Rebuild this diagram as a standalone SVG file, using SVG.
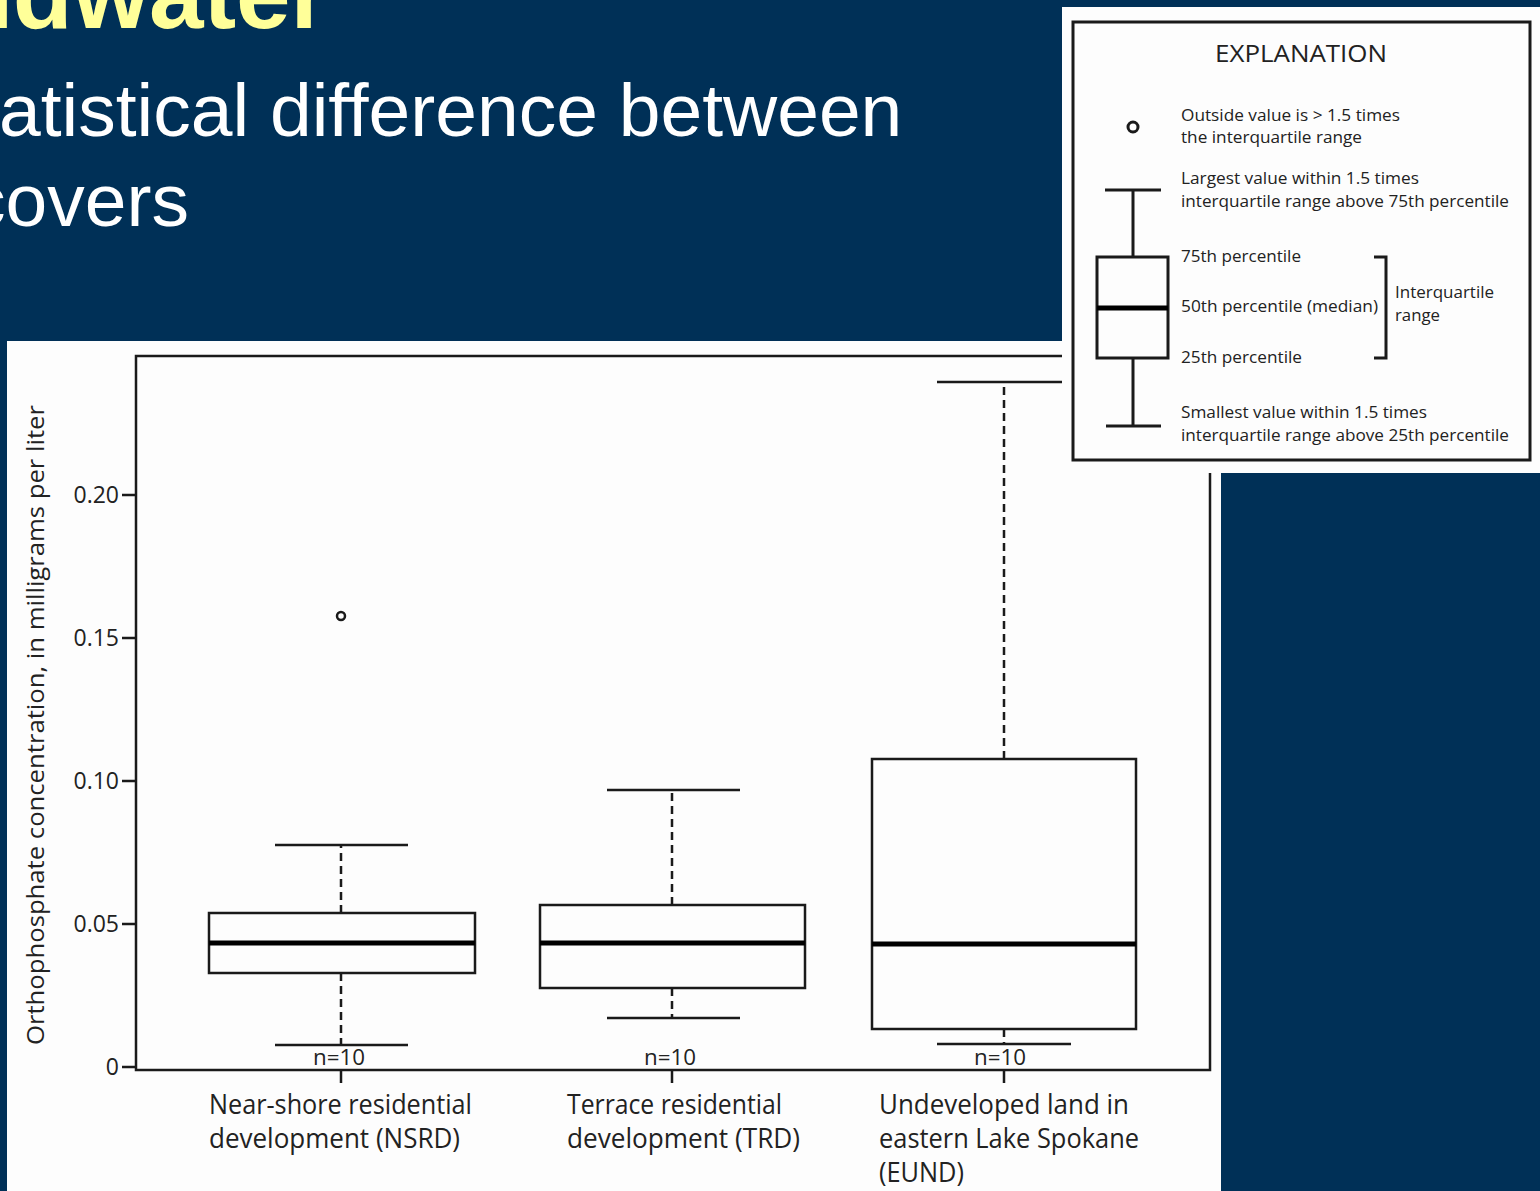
<svg xmlns="http://www.w3.org/2000/svg" width="1540" height="1191" viewBox="0 0 1540 1191">
<style>
.title{font-family:"Liberation Sans",Arial,sans-serif;font-weight:bold;fill:#FFFF99}
.body{font-family:"Liberation Sans",Arial,sans-serif;fill:#ffffff}
.t{font-family:"Open Sans","Noto Sans",sans-serif;fill:#222}
.ln{stroke:#1a1a1a;stroke-width:2.5;fill:none}
.box{stroke:#1a1a1a;stroke-width:2.5;fill:none}
.med{stroke:#000;stroke-width:5;fill:none}
.dash{stroke:#1a1a1a;stroke-width:2.5;fill:none;stroke-dasharray:8 5}
.lg{stroke:#1a1a1a;stroke-width:3;fill:none}
</style>
<rect x="0" y="0" width="1540" height="1191" fill="#003057"/>
<g id="slide-text">
<text class="title" x="-47" y="28" font-size="98">ndwater</text>
<text class="body" x="-1" y="136" font-size="75">atistical difference between</text>
<text class="body" x="-32" y="226" font-size="75">covers</text>
</g>
<g id="chart">
<rect x="7" y="341" width="1214" height="850" fill="#fdfdfd"/>
<rect x="136" y="356" width="1074" height="714" class="ln"/>
<g id="y-axis">
<path class="ln" d="M122 495H136M122 638H136M122 781H136M122 924H136M122 1067H136"/>
<text class="t" x="119" y="503" font-size="23" text-anchor="end">0.20</text>
<text class="t" x="119" y="646" font-size="23" text-anchor="end">0.15</text>
<text class="t" x="119" y="789" font-size="23" text-anchor="end">0.10</text>
<text class="t" x="119" y="932" font-size="23" text-anchor="end">0.05</text>
<text class="t" x="119" y="1075" font-size="23" text-anchor="end">0</text>
<text class="t" transform="translate(44,725) rotate(-90)" font-size="24" text-anchor="middle" textLength="640" lengthAdjust="spacingAndGlyphs">Orthophosphate concentration, in milligrams per liter</text>
</g>
<g id="x-axis">
<path class="ln" d="M341 1070V1083M672 1070V1083M1004 1070V1083"/>
<text class="t" x="209" y="1114" font-size="27" textLength="263" lengthAdjust="spacingAndGlyphs">Near-shore residential</text>
<text class="t" x="209" y="1148" font-size="27" textLength="251" lengthAdjust="spacingAndGlyphs">development (NSRD)</text>
<text class="t" x="567" y="1114" font-size="27" textLength="215" lengthAdjust="spacingAndGlyphs">Terrace residential</text>
<text class="t" x="567" y="1148" font-size="27" textLength="233" lengthAdjust="spacingAndGlyphs">development (TRD)</text>
<text class="t" x="879" y="1114" font-size="27" textLength="250" lengthAdjust="spacingAndGlyphs">Undeveloped land in</text>
<text class="t" x="879" y="1148" font-size="27" textLength="260" lengthAdjust="spacingAndGlyphs">eastern Lake Spokane</text>
<text class="t" x="879" y="1182" font-size="27" textLength="85" lengthAdjust="spacingAndGlyphs">(EUND)</text>
</g>
<g id="box-nsrd">
<path class="dash" d="M341 913V845M341 973V1045"/>
<path class="ln" d="M275 845H408M275 1045H408"/>
<rect class="box" x="209" y="913" width="266" height="60"/>
<path class="med" d="M209 943H475"/>
<circle cx="341" cy="616" r="4" class="ln"/>
<text class="t" x="339" y="1065" font-size="21" text-anchor="middle" textLength="52" lengthAdjust="spacingAndGlyphs">n=10</text>
</g>
<g id="box-trd">
<path class="dash" d="M672 905V790M672 988V1018"/>
<path class="ln" d="M607 790H740M607 1018H740"/>
<rect class="box" x="540" y="905" width="265" height="83"/>
<path class="med" d="M540 943H805"/>
<text class="t" x="670" y="1065" font-size="21" text-anchor="middle" textLength="52" lengthAdjust="spacingAndGlyphs">n=10</text>
</g>
<g id="box-eund">
<path class="dash" d="M1004 759V382M1004 1029V1044"/>
<path class="ln" d="M937 382H1071M937 1044H1071"/>
<rect class="box" x="872" y="759" width="264" height="270"/>
<path class="med" d="M872 944H1136"/>
<text class="t" x="1000" y="1065" font-size="21" text-anchor="middle" textLength="52" lengthAdjust="spacingAndGlyphs">n=10</text>
</g>
</g>
<g id="legend">
<rect x="1062" y="7" width="478" height="466" fill="#fdfdfd"/>
<rect x="1073" y="22" width="457" height="438" class="lg"/>
<text class="t" x="1301" y="62" font-size="24" text-anchor="middle" textLength="172" lengthAdjust="spacingAndGlyphs">EXPLANATION</text>
<circle cx="1133" cy="127" r="5" class="lg"/>
<text class="t" x="1181" y="121" font-size="17" textLength="219" lengthAdjust="spacingAndGlyphs">Outside value is &gt; 1.5 times</text>
<text class="t" x="1181" y="143" font-size="17" textLength="181" lengthAdjust="spacingAndGlyphs">the interquartile range</text>
<path class="lg" d="M1105 190H1161M1133 190V257M1133 358V426M1106 426H1161" stroke-width="2.5"/>
<rect x="1097" y="257" width="71" height="101" class="lg"/>
<path class="med" d="M1097 308H1168"/>
<text class="t" x="1181" y="184" font-size="17" textLength="238" lengthAdjust="spacingAndGlyphs">Largest value within 1.5 times</text>
<text class="t" x="1181" y="207" font-size="17" textLength="328" lengthAdjust="spacingAndGlyphs">interquartile range above 75th percentile</text>
<text class="t" x="1181" y="262" font-size="17" textLength="120" lengthAdjust="spacingAndGlyphs">75th percentile</text>
<text class="t" x="1181" y="312" font-size="17" textLength="197" lengthAdjust="spacingAndGlyphs">50th percentile (median)</text>
<text class="t" x="1181" y="363" font-size="17" textLength="121" lengthAdjust="spacingAndGlyphs">25th percentile</text>
<path class="lg" d="M1374 257H1386V358H1374"/>
<text class="t" x="1395" y="298" font-size="17" textLength="99" lengthAdjust="spacingAndGlyphs">Interquartile</text>
<text class="t" x="1395" y="321" font-size="17" textLength="45" lengthAdjust="spacingAndGlyphs">range</text>
<text class="t" x="1181" y="418" font-size="17" textLength="246" lengthAdjust="spacingAndGlyphs">Smallest value within 1.5 times</text>
<text class="t" x="1181" y="441" font-size="17" textLength="328" lengthAdjust="spacingAndGlyphs">interquartile range above 25th percentile</text>
</g>
</svg>
